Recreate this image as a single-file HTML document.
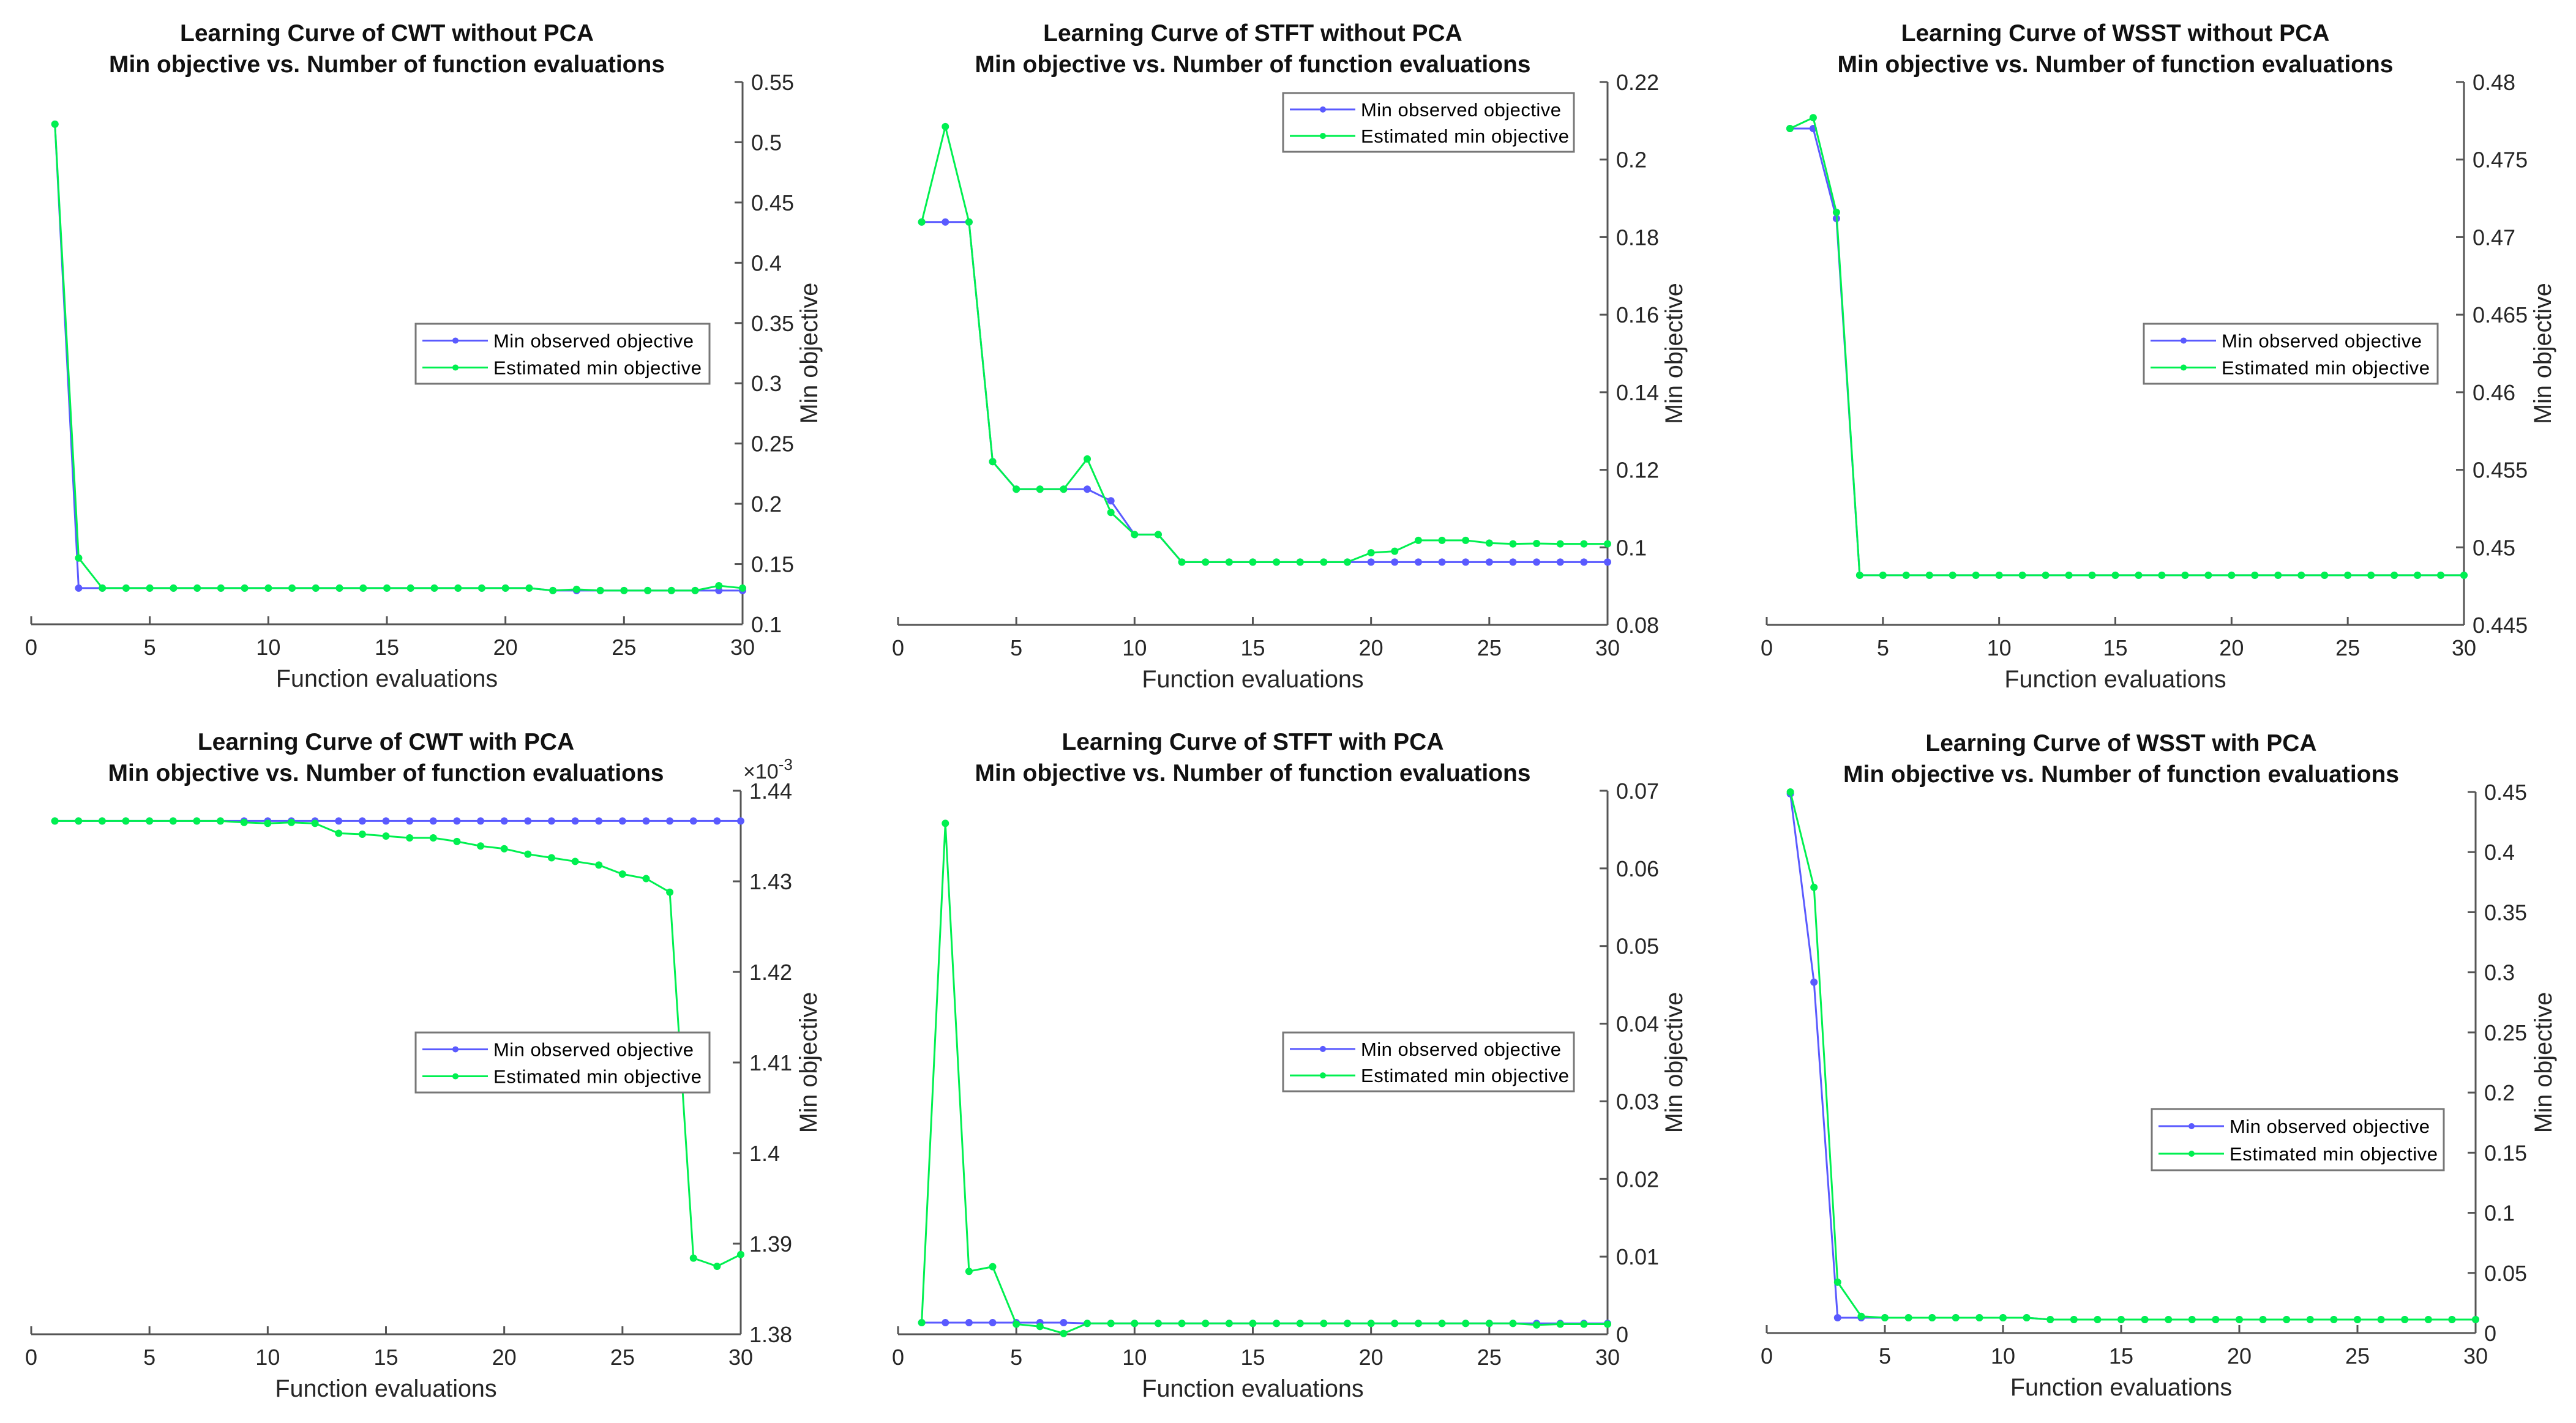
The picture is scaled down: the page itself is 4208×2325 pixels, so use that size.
<!DOCTYPE html>
<html><head><meta charset="utf-8"><style>
html,body{margin:0;padding:0;background:#fff;}
svg{display:block;font-family:"Liberation Sans",Arial,sans-serif;}
</style></head><body>
<svg id="fig" width="4208" height="2325" viewBox="0 0 4208 2325" xmlns="http://www.w3.org/2000/svg"></svg>
<script>
const xCats = [1,2,3,4,5,6,7,8,9,10,11,12,13,14,15,16,17,18,19,20,21,22,23,24,25,26,27,28,29,30];
const xTicks = [0,5,10,15,20,25,30];

const cwtNoPcaObs = [0.515,0.130,0.130,0.130,0.130,0.130,0.130,0.130,0.130,0.130,0.130,0.130,0.130,0.130,0.130,0.130,0.130,0.130,0.130,0.130,0.130,0.128,0.128,0.128,0.128,0.128,0.128,0.128,0.128,0.128];
const cwtNoPcaEst = [0.515,0.155,0.130,0.130,0.130,0.130,0.130,0.130,0.130,0.130,0.130,0.130,0.130,0.130,0.130,0.130,0.130,0.130,0.130,0.130,0.130,0.128,0.129,0.128,0.128,0.128,0.128,0.128,0.132,0.130];
const cwtNoPcaTicks = [0.1,0.15,0.2,0.25,0.3,0.35,0.4,0.45,0.5,0.55];
const cwtNoPcaTickLabels = ["0.1","0.15","0.2","0.25","0.3","0.35","0.4","0.45","0.5","0.55"];

const stftNoPcaObs = [0.1839,0.1839,0.1839,0.1221,0.115,0.115,0.115,0.115,0.112,0.1033,0.1033,0.0962,0.0962,0.0962,0.0962,0.0962,0.0962,0.0962,0.0962,0.0962,0.0962,0.0962,0.0962,0.0962,0.0962,0.0962,0.0962,0.0962,0.0962,0.0962];
const stftNoPcaEst = [0.1839,0.2085,0.1839,0.1221,0.115,0.115,0.115,0.1228,0.109,0.1033,0.1033,0.0962,0.0962,0.0962,0.0962,0.0962,0.0962,0.0962,0.0962,0.0986,0.099,0.1018,0.1018,0.1018,0.1011,0.1009,0.101,0.1009,0.1009,0.1009];
const stftNoPcaTicks = [0.08,0.1,0.12,0.14,0.16,0.18,0.2,0.22];
const stftNoPcaTickLabels = ["0.08","0.1","0.12","0.14","0.16","0.18","0.2","0.22"];

const wsstNoPcaObs = [0.477,0.477,0.4712,0.4482,0.4482,0.4482,0.4482,0.4482,0.4482,0.4482,0.4482,0.4482,0.4482,0.4482,0.4482,0.4482,0.4482,0.4482,0.4482,0.4482,0.4482,0.4482,0.4482,0.4482,0.4482,0.4482,0.4482,0.4482,0.4482,0.4482];
const wsstNoPcaEst = [0.477,0.4777,0.4716,0.4482,0.4482,0.4482,0.4482,0.4482,0.4482,0.4482,0.4482,0.4482,0.4482,0.4482,0.4482,0.4482,0.4482,0.4482,0.4482,0.4482,0.4482,0.4482,0.4482,0.4482,0.4482,0.4482,0.4482,0.4482,0.4482,0.4482];
const wsstNoPcaTicks = [0.445,0.45,0.455,0.46,0.465,0.47,0.475,0.48];
const wsstNoPcaTickLabels = ["0.445","0.45","0.455","0.46","0.465","0.47","0.475","0.48"];

const cwtPcaObs = [1.43666,1.43666,1.43666,1.43666,1.43666,1.43666,1.43666,1.43666,1.43666,1.43666,1.43666,1.43666,1.43666,1.43666,1.43666,1.43666,1.43666,1.43666,1.43666,1.43666,1.43666,1.43666,1.43666,1.43666,1.43666,1.43666,1.43666,1.43666,1.43666,1.43666];
const cwtPcaEst = [1.43666,1.43666,1.43666,1.43666,1.43666,1.43666,1.43666,1.43666,1.4365,1.4364,1.4365,1.4364,1.4353,1.4352,1.4350,1.4348,1.4348,1.4344,1.4339,1.4336,1.4330,1.4326,1.4322,1.4318,1.4308,1.4303,1.4288,1.3884,1.3875,1.3888];
const cwtPcaTicks = [1.38,1.39,1.40,1.41,1.42,1.43,1.44];
const cwtPcaTickLabels = ["1.38","1.39","1.4","1.41","1.42","1.43","1.44"];

const stftPcaObs = [0.0015,0.0015,0.0015,0.0015,0.0015,0.0015,0.0015,0.0014,0.0014,0.0014,0.0014,0.0014,0.0014,0.0014,0.0014,0.0014,0.0014,0.0014,0.0014,0.0014,0.0014,0.0014,0.0014,0.0014,0.0014,0.0014,0.0014,0.0014,0.0014,0.0014];
const stftPcaEst = [0.0015,0.0658,0.0081,0.0087,0.0013,0.0010,0.0001,0.0014,0.0014,0.0014,0.0014,0.0014,0.0014,0.0014,0.0014,0.0014,0.0014,0.0014,0.0014,0.0014,0.0014,0.0014,0.0014,0.0014,0.0014,0.0014,0.0012,0.0013,0.0013,0.0013];
const stftPcaTicks = [0,0.01,0.02,0.03,0.04,0.05,0.06,0.07];
const stftPcaTickLabels = ["0","0.01","0.02","0.03","0.04","0.05","0.06","0.07"];

const wsstPcaObs = [0.4485,0.2918,0.0127,0.0127,0.0127,0.0127,0.0127,0.0127,0.0127,0.0127,0.0127,0.0112,0.0112,0.0112,0.0112,0.0112,0.0112,0.0112,0.0112,0.0112,0.0112,0.0112,0.0112,0.0112,0.0112,0.0112,0.0112,0.0112,0.0112,0.0112];
const wsstPcaEst = [0.45,0.3707,0.0423,0.0139,0.0127,0.0127,0.0127,0.0127,0.0127,0.0127,0.0127,0.0112,0.0112,0.0112,0.0112,0.0112,0.0112,0.0112,0.0112,0.0112,0.0112,0.0112,0.0112,0.0112,0.0112,0.0112,0.0112,0.0112,0.0112,0.0112];
const wsstPcaTicks = [0,0.05,0.1,0.15,0.2,0.25,0.3,0.35,0.4,0.45];
const wsstPcaTickLabels = ["0","0.05","0.1","0.15","0.2","0.25","0.3","0.35","0.4","0.45"];

const legendLabels = ["Min observed objective","Estimated min objective"];
const NS = "http://www.w3.org/2000/svg";
const svg = document.getElementById('fig');
const BLUE = "#5a5aff", GREEN = "#00f050", AX = "#555", TXT = "#262626";

function mk(tag, attrs, parent){
  const e = document.createElementNS(NS, tag);
  for (const k in attrs) e.setAttribute(k, attrs[k]);
  (parent || svg).appendChild(e);
  return e;
}

function panel(cfg){
  const g = mk('g', {});
  
  
  const {x0,x1,y0,y1,ymin,ymax} = cfg;
  const sx = v => x0 + (v - 0) / 30 * (x1 - x0);
  const sy = v => y1 - (v - ymin) / (ymax - ymin) * (y1 - y0);
  const cx = (x0 + x1) / 2;
  const t1 = mk('text', {x:cx, y:y0-67, 'text-anchor':'middle', 'font-size':39, 'font-weight':'bold', fill:'#111'}, g);
  t1.textContent = cfg.title;
  
  
  const t2 = mk('text', {x:cx, y:y0-16, 'text-anchor':'middle', 'font-size':39, 'font-weight':'bold', fill:'#111'}, g);
  t2.textContent = "Min objective vs. Number of function evaluations";
  
  
  const xa = mk('line', {x1:x0, y1:y1, x2:x1, y2:y1, stroke:AX, 'stroke-width':3}, g);
  
  
  const ya = mk('line', {x1:x1, y1:y0, x2:x1, y2:y1, stroke:AX, 'stroke-width':3}, g);
  
  
  xTicks.forEach(t => {
    const px = sx(t);
    mk('line', {x1:px, y1:y1, x2:px, y2:y1-13, stroke:AX, 'stroke-width':3}, g);
    const tl = mk('text', {x:px, y:y1+50, 'text-anchor':'middle', 'font-size':36, fill:TXT}, g);
    tl.textContent = String(t);
    
    
  });
  cfg.ticks.forEach((t, i) => {
    const py = sy(t);
    mk('line', {x1:x1, y1:py, x2:x1-13, y2:py, stroke:AX, 'stroke-width':3}, g);
    const tl = mk('text', {x:x1+14, y:py+13, 'font-size':36, fill:TXT}, g);
    tl.textContent = cfg.tickLabels[i];
    
    
  });
  const xl = mk('text', {x:cx, y:y1+102, 'text-anchor':'middle', 'font-size':39.5, fill:TXT}, g);
  xl.textContent = "Function evaluations";
  
  
  const ylx = x1 + cfg.ylabOff, yly = (y0 + y1) / 2;
  const yl = mk('text', {x:ylx, y:yly, 'text-anchor':'middle', 'font-size':39.5, fill:TXT, transform:`rotate(-90 ${ylx} ${yly})`}, g);
  yl.textContent = "Min objective";
  
  
  if (cfg.exp) {
    const ex = mk('text', {x:x1+4, y:y0-20, 'font-size':34, fill:TXT}, g);
    ex.textContent = "×10";
    
    
    const sup = mk('tspan', {dy:-14, 'font-size':26}, ex);
    sup.textContent = "-3";
  }
  [[cfg.obs, BLUE, 'min-observed-series'], [cfg.est, GREEN, 'estimated-min-series']].forEach(([arr, col, nm]) => {
    const pts = arr.map((v, i) => sx(xCats[i]) + "," + sy(v)).join(" ");
    const pl = mk('polyline', {points:pts, fill:'none', stroke:col, 'stroke-width':3}, g);
    
    
    arr.forEach((v, i) => {
      const c = mk('circle', {cx:sx(xCats[i]), cy:sy(v), r:5, fill:col, stroke:col, 'stroke-width':2}, g);
      
      
    });
  });
  const [lx, ly, lw, lh] = cfg.legend;
  const lg = mk('g', {}, g);
  
  
  mk('rect', {x:lx, y:ly, width:lw, height:lh, fill:'#fff', stroke:'#777', 'stroke-width':3}, lg);
  [[BLUE, 0.28], [GREEN, 0.73]].forEach(([col, f], i) => {
    const ry = ly + lh * f;
    const e = mk('g', {}, lg);
    
    
    mk('line', {x1:lx+11, y1:ry, x2:lx+118, y2:ry, stroke:col, 'stroke-width':3}, e);
    mk('circle', {cx:lx+65, cy:ry, r:5, fill:col}, e);
    const tx = mk('text', {x:lx+127, y:ry+11, 'font-size':31, fill:'#000'}, e);
    tx.textContent = legendLabels[i];
    tx.setAttribute('textLength', i === 0 ? 327 : 340);
  });
}

panel({name:'cwt-without-pca', title:'Learning Curve of CWT without PCA', x0:51, x1:1213, y0:134, y1:1020, ymin:0.1, ymax:0.55, ticks:cwtNoPcaTicks, tickLabels:cwtNoPcaTickLabels, obs:cwtNoPcaObs, est:cwtNoPcaEst, legend:[679,529,480,98], ylabOff:122});
panel({name:'stft-without-pca', title:'Learning Curve of STFT without PCA', x0:1467, x1:2626, y0:134, y1:1021, ymin:0.08, ymax:0.22, ticks:stftNoPcaTicks, tickLabels:stftNoPcaTickLabels, obs:stftNoPcaObs, est:stftNoPcaEst, legend:[2096,152,475,96], ylabOff:122});
panel({name:'wsst-without-pca', title:'Learning Curve of WSST without PCA', x0:2886, x1:4025, y0:134, y1:1021, ymin:0.445, ymax:0.48, ticks:wsstNoPcaTicks, tickLabels:wsstNoPcaTickLabels, obs:wsstNoPcaObs, est:wsstNoPcaEst, legend:[3502,529,480,98], ylabOff:142});
panel({name:'cwt-with-pca', title:'Learning Curve of CWT with PCA', x0:51, x1:1210, y0:1292, y1:2180, ymin:1.38, ymax:1.44, ticks:cwtPcaTicks, tickLabels:cwtPcaTickLabels, obs:cwtPcaObs, est:cwtPcaEst, legend:[679,1687,480,98], ylabOff:124, exp:true});
panel({name:'stft-with-pca', title:'Learning Curve of STFT with PCA', x0:1467, x1:2626, y0:1292, y1:2180, ymin:0, ymax:0.07, ticks:stftPcaTicks, tickLabels:stftPcaTickLabels, obs:stftPcaObs, est:stftPcaEst, legend:[2096,1687,475,96], ylabOff:122});
panel({name:'wsst-with-pca', title:'Learning Curve of WSST with PCA', x0:2886, x1:4044, y0:1294, y1:2178, ymin:0, ymax:0.45, ticks:wsstPcaTicks, tickLabels:wsstPcaTickLabels, obs:wsstPcaObs, est:wsstPcaEst, legend:[3515,1812,477,100], ylabOff:124});
</script>
</body></html>
